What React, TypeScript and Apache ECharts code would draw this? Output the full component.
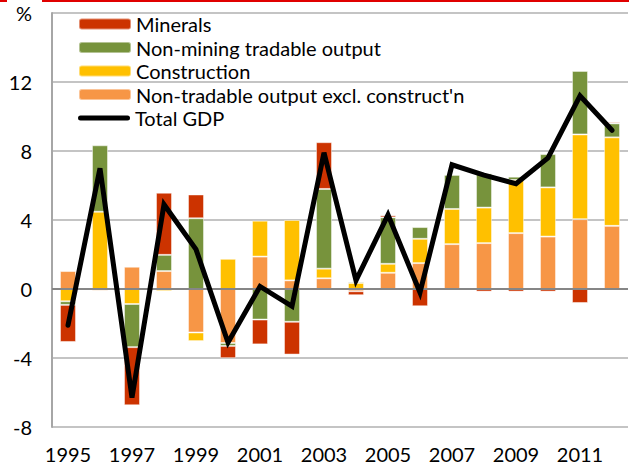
import React, { useEffect, useRef } from "react";
import * as echarts from "echarts";

const years = ["1995","1996","1997","1998","1999","2000","2001","2002","2003","2004","2005","2006","2007","2008","2009","2010","2011","2012"];
const nonTradable = [1.04, -0.1, 1.29, 1.04, -2.52, -3.13, 1.88, 0.5, 0.62, -0.13, 0.94, 1.5, 2.6, 2.66, 3.24, 3.04, 4.05, 3.66];
const construction = [-0.71, 4.48, -0.87, -0.12, -0.5, 1.75, 2.08, 3.5, 0.56, 0.35, 0.52, 1.41, 2.04, 2.06, 3.08, 2.85, 4.91, 5.13];
const nonMining = [-0.21, 3.85, -2.5, 0.94, 4.1, -0.17, -1.77, -1.9, 4.62, 0.08, 2.69, 0.68, 1.98, 1.98, 0.19, 1.93, 3.68, 0.81];
const minerals = [-2.15, -0.05, -3.37, 3.6, 1.38, -0.71, -1.44, -1.9, 2.71, -0.23, 0.12, -1.0, 0, -0.15, -0.15, -0.15, -0.81, 0.08];
const totalGdp = [-2.1, 7.0, -6.3, 4.9, 2.3, -3.1, 0.15, -1.0, 7.9, 0.5, 4.3, -0.2, 7.2, 6.6, 6.1, 7.6, 11.2, 9.2];

const names = {
  minerals: "Minerals",
  nonMining: "Non-mining tradable output",
  construction: "Construction",
  nonTradable: "Non-tradable output excl. construct'n",
  gdp: "Total GDP",
};

const FONT = "Lato";
const FS = 20;

export default function App() {
  const ref = useRef<HTMLDivElement>(null);
  useEffect(() => {
    if (!ref.current) return;
    const chart = echarts.init(ref.current, null, { renderer: "svg" });
    const barStyle = (color: string) => ({
      color,
      borderColor: "rgba(255,255,255,0.45)",
      borderWidth: 1,
    });
    const legendText = { fontFamily: FONT, fontSize: FS, color: "#000", lineHeight: 20 };
    chart.setOption({
      animation: false,
      backgroundColor: "#fff",
      textStyle: { fontFamily: FONT },
      grid: { left: 52, right: 1, top: 13, bottom: 41, containLabel: false },
      legend: [
        {
          orient: "vertical",
          left: 78,
          top: 14,
          padding: 0,
          itemWidth: 52,
          itemHeight: 11,
          itemGap: 3.5,
          data: [names.minerals, names.nonMining, names.construction, names.nonTradable],
          textStyle: legendText,
        },
        {
          orient: "vertical",
          left: 78,
          top: 108,
          padding: 0,
          itemWidth: 52,
          itemHeight: 5,
          data: [
            {
              name: names.gdp,
              icon: "path://M2.5,0 L49.5,0 A2.5,2.5 0 0 1 49.5,5 L2.5,5 A2.5,2.5 0 0 1 2.5,0 Z",
              itemStyle: { color: "#000" },
            },
          ],
          textStyle: legendText,
        },
      ],
      xAxis: {
        type: "category",
        data: years,
        axisLine: { show: false, onZero: false },
        axisTick: { show: false },
        axisLabel: { interval: 1, margin: 17, fontSize: FS, color: "#000", fontFamily: FONT },
        splitLine: { show: false },
      },
      yAxis: {
        type: "value",
        min: -8,
        max: 16,
        interval: 4,
        axisLine: { show: true, lineStyle: { color: "#a6a6a6", width: 2 } },
        axisTick: { show: false },
        axisLabel: {
          margin: 20,
          fontSize: FS,
          color: "#000",
          fontFamily: FONT,
          formatter: (v: number) => (v === 16 ? "%" : String(v)),
        },
        splitLine: { show: true, lineStyle: { color: "#c4c4c4", width: 2 } },
      },
      graphic: [
        { type: "rect", shape: { x: 0, y: 0, width: 7, height: 2 }, style: { fill: "#e00000" }, z: 100 },
        { type: "rect", shape: { x: 42, y: 0, width: 600, height: 2 }, style: { fill: "#e00000" }, z: 100 },
      ],
      series: [
        {
          name: names.nonTradable,
          type: "bar",
          stack: "total",
          barWidth: "50%",
          data: nonTradable,
          itemStyle: barStyle("#f79646"),
          markLine: {
            silent: true,
            symbol: ["none", "none"],
            label: { show: false },
            lineStyle: { color: "#868686", width: 2, type: "solid" },
            data: [{ yAxis: 0 }],
          },
        },
        { name: names.construction, type: "bar", stack: "total", data: construction, itemStyle: barStyle("#ffc000") },
        { name: names.nonMining, type: "bar", stack: "total", data: nonMining, itemStyle: barStyle("#77933c") },
        { name: names.minerals, type: "bar", stack: "total", data: minerals, itemStyle: barStyle("#cc3300") },
        {
          name: names.gdp,
          type: "line",
          data: totalGdp,
          symbol: "none",
          z: 10,
          lineStyle: { color: "#000", width: 5, cap: "round", join: "miter" },
          itemStyle: { color: "#000" },
        },
      ],
    });
    return () => chart.dispose();
  }, []);
  return <div ref={ref} style={{ position: "fixed", left: 0, top: 0, width: 629, height: 468 }} />;
}
